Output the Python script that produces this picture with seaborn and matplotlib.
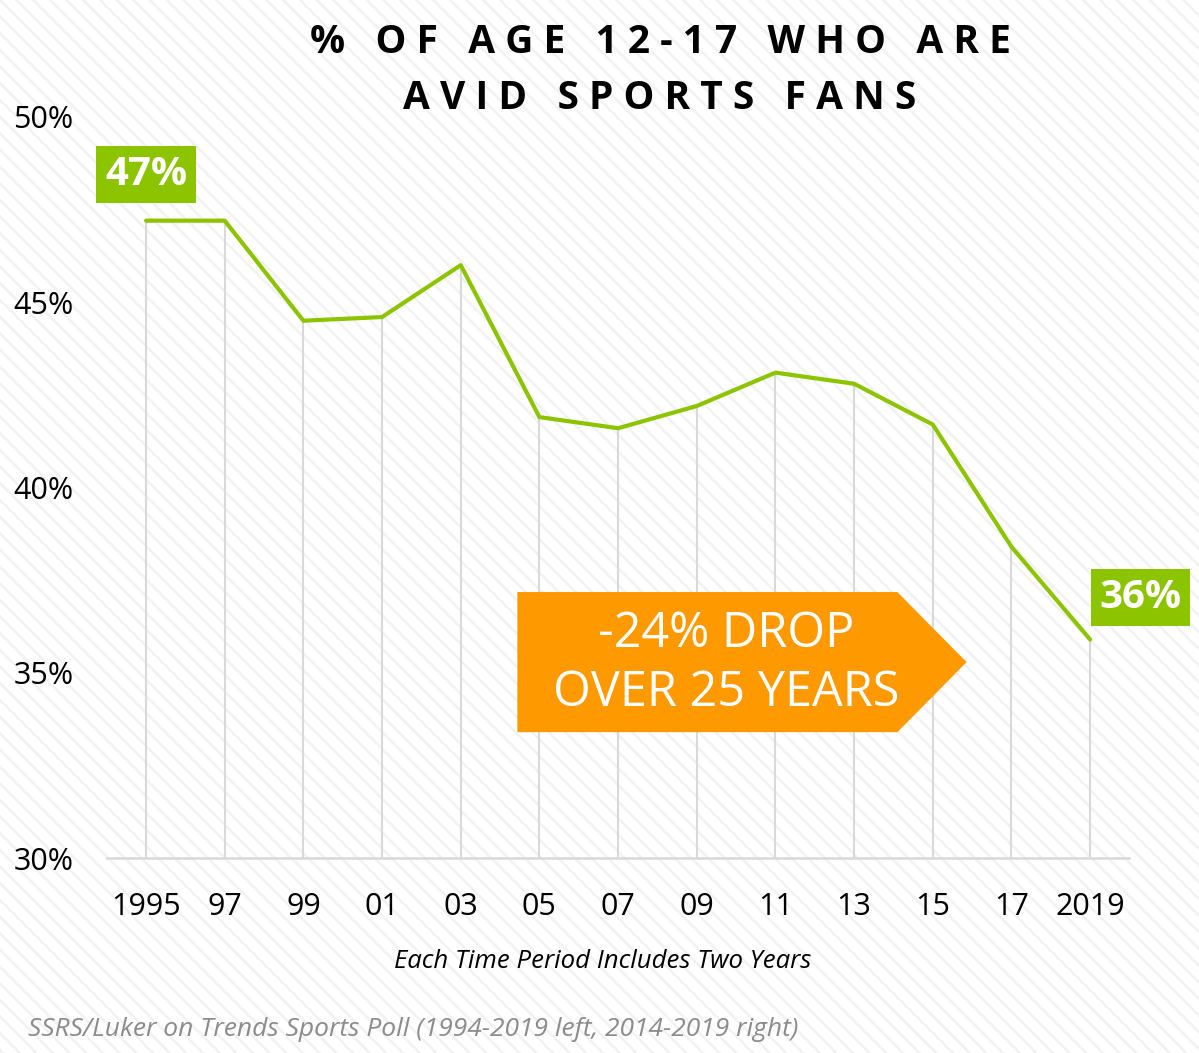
import pandas as pd
import matplotlib.pyplot as plt
import matplotlib.patches as mpatches
import seaborn as sns

# === Data ===
periods = ["1995", "97", "99", "01", "03", "05", "07", "09", "11", "13", "15", "17", "2019"]
avid_pct = [47.2, 47.2, 44.5, 44.6, 46.0, 41.9, 41.6, 42.2, 43.1, 42.8, 41.7, 38.4, 35.9]
y_ticks = [30, 35, 40, 45, 50]
title_lines = ["% OF AGE 12-17 WHO ARE", "AVID SPORTS FANS"]
start_label = "47%"
end_label = "36%"
callout = "-24% DROP\nOVER 25 YEARS"

GREEN = "#8cc400"
ORANGE = "#ff9900"
GRID = "#d9d9d9"

# === Setup ===
sns.set_theme(style="white")
plt.rcParams["font.family"] = ["Open Sans", "DejaVu Sans"]
plt.rcParams["hatch.linewidth"] = 1.8
plt.rcParams["hatch.color"] = "#f2f2f2"

df = pd.DataFrame({"pos": range(len(periods)), "pct": avid_pct})

fig = plt.figure(figsize=(11.99, 10.53), dpi=100)
# striped background
fig.patches.append(mpatches.Rectangle((0, 0), 1, 1, transform=fig.transFigure,
                                      facecolor="white", edgecolor="#f2f2f2",
                                      hatch="\\\\", linewidth=0, zorder=-10))
ax = fig.add_axes([0.089, 0.185, 0.853, 0.704])
ax.set_facecolor("none")

# drop lines
ax.vlines(df["pos"], 30, df["pct"], color=GRID, linewidth=1.5, zorder=1)
sns.lineplot(data=df, x="pos", y="pct", color=GREEN, linewidth=3, ax=ax, zorder=3)

ax.set_xlim(-0.5, len(periods) - 0.5)
ax.set_ylim(30, 50)
ax.set_xticks(range(len(periods)))
ax.set_xticklabels(periods)
ax.set_yticks(y_ticks)
ax.set_yticklabels([f"{t}%" for t in y_ticks])
ax.tick_params(axis="x", length=0, pad=24, labelsize=22, colors="black")
ax.tick_params(axis="y", length=0, pad=24, labelsize=22, colors="black")
for s in ["top", "right", "left"]:
    ax.spines[s].set_visible(False)
ax.spines["bottom"].set_color(GRID)
ax.spines["bottom"].set_linewidth(1.8)
ax.set_xlabel("Each Time Period Includes Two Years", fontsize=18.5, style="italic",
              color="black")
ax.xaxis.set_label_coords(0.485, -0.122)
ax.set_ylabel("")

# value labels
ax.text(0, 48.45, start_label, ha="center", va="center", color="white",
        fontsize=29, fontweight="bold",
        bbox=dict(boxstyle="square,pad=0.22", fc=GREEN, ec="none"))
ax.text(12.64, 37.03, end_label, ha="center", va="center", color="white",
        fontsize=29, fontweight="bold",
        bbox=dict(boxstyle="square,pad=0.22", fc=GREEN, ec="none"))

# orange callout arrow
arrow = mpatches.Polygon([(4.72, 33.40), (4.72, 37.18), (9.55, 37.18), (10.43, 35.29),
                          (9.55, 33.40)], closed=True, fc=ORANGE, ec="none", zorder=4)
ax.add_patch(arrow)
ax.text(7.38, 35.25, callout, ha="center", va="center", color="white", fontsize=35,
        linespacing=1.27, zorder=5)

# title with wide letter spacing
def spaced(s):
    return "   ".join(" ".join(w) for w in s.split(" "))

fig.text(0.551, 0.960, spaced(title_lines[0]), ha="center", va="center",
         fontsize=28, fontweight="bold", color="black")
fig.text(0.550, 0.906, spaced(title_lines[1]), ha="center", va="center",
         fontsize=28, fontweight="bold", color="black")

fig.text(0.023, 0.022, "SSRS/Luker on Trends Sports Poll (1994-2019 left, 2014-2019 right)",
         ha="left", va="center", fontsize=19, style="italic", color="#8c8c8c")

plt.savefig("out.png", dpi=100)
